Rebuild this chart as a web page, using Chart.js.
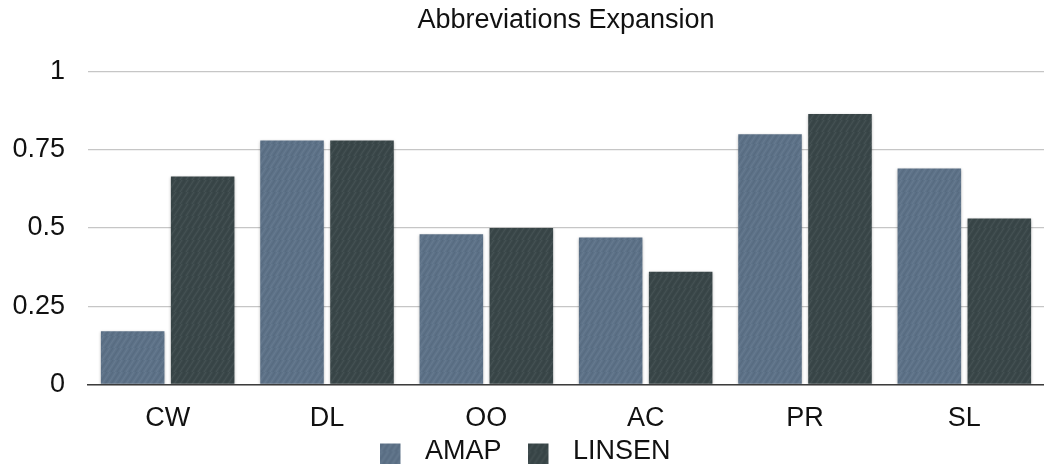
<!DOCTYPE html>
<html>
<head>
<meta charset="utf-8">
<script src="https://cdn.jsdelivr.net/npm/chart.js@4/dist/chart.umd.min.js"></script>
<style>
  html, body { margin: 0; padding: 0; background: #ffffff; overflow: hidden; }
  #wrap { width: 1044px; height: 465px; overflow: hidden; }
</style>
</head>
<body>
<div id="wrap"><canvas id="chart" width="1044" height="475"></canvas></div>
<script>
const categories = ['CW', 'DL', 'OO', 'AC', 'PR', 'SL'];
const amapValues = [0.17, 0.78, 0.48, 0.47, 0.80, 0.69];
const linsenValues = [0.665, 0.78, 0.50, 0.36, 0.865, 0.53];
const yTicks = [0, 0.25, 0.5, 0.75, 1];

const FONT = '"Liberation Sans", Arial, Helvetica, sans-serif';
const AMAP_COLOR = '#5d7288';
const LINSEN_COLOR = '#3a4749';

// Fine diagonal streak texture for the bar fills
function streakPattern(base) {
  const c = document.createElement('canvas');
  c.width = 12; c.height = 12;
  const g = c.getContext('2d');
  g.fillStyle = base;
  g.fillRect(0, 0, 12, 12);
  g.lineWidth = 1.2;
  g.strokeStyle = 'rgba(255,255,255,0.06)';
  for (let k = -12; k <= 24; k += 6) {
    g.beginPath(); g.moveTo(k, 12); g.lineTo(k + 8, 0); g.stroke();
  }
  g.strokeStyle = 'rgba(0,0,0,0.06)';
  for (let k = -9; k <= 27; k += 6) {
    g.beginPath(); g.moveTo(k, 12); g.lineTo(k + 8, 0); g.stroke();
  }
  return g.createPattern(c, 'repeat');
}

// Legend marker: a square on the left of a wider transparent box
function legendMarker(base) {
  const c = document.createElement('canvas');
  c.width = 31; c.height = 24;
  const g = c.getContext('2d');
  g.fillStyle = streakPattern(base);
  g.fillRect(0, 4, 20, 20);
  return c;
}

const barShadow = {
  id: 'barShadow',
  beforeDatasetsDraw(chart) {
    const ctx = chart.ctx;
    ctx.save();
    ctx.shadowColor = 'rgba(0,0,0,0.28)';
    ctx.shadowBlur = 3;
    ctx.shadowOffsetX = 0;
    ctx.shadowOffsetY = 1;
  },
  afterDatasetsDraw(chart) {
    chart.ctx.restore();
  }
};

new Chart(document.getElementById('chart'), {
  type: 'bar',
  data: {
    labels: categories,
    datasets: [
      {
        label: 'AMAP',
        data: amapValues,
        backgroundColor: streakPattern(AMAP_COLOR),
        pointStyle: legendMarker(AMAP_COLOR),
        borderWidth: 0,
        categoryPercentage: 0.8785,
        barPercentage: 0.908
      },
      {
        label: 'LINSEN',
        data: linsenValues,
        backgroundColor: streakPattern(LINSEN_COLOR),
        pointStyle: legendMarker(LINSEN_COLOR),
        borderWidth: 0,
        categoryPercentage: 0.8785,
        barPercentage: 0.908
      }
    ]
  },
  options: {
    responsive: false,
    animation: false,
    events: [],
    layout: { padding: { left: 0, right: -7, top: 0, bottom: 0 } },
    plugins: {
      tooltip: { enabled: false },
      title: {
        display: true,
        text: 'Abbreviations Expansion',
        fullSize: false,
        color: '#111111',
        font: { family: FONT, size: 27, weight: 'normal', lineHeight: 1 },
        padding: { top: 7.4, bottom: 37.3 }
      },
      legend: {
        display: true,
        position: 'bottom',
        labels: {
          usePointStyle: true,
          pointStyleWidth: 31,
          boxHeight: 27,
          padding: 27,
          color: '#111111',
          font: { family: FONT, size: 27, lineHeight: 1 }
        }
      }
    },
    scales: {
      x: {
        grid: { display: false, drawTicks: false },
        border: { display: true, color: '#3c3c3c', width: 1.5 },
        ticks: {
          color: '#111111',
          mirror: true,
          padding: -48.1,
          font: { family: FONT, size: 27, lineHeight: 1 }
        },
        afterFit(scale) { scale.height = 26.7; }
      },
      y: {
        min: 0,
        max: 1,
        afterBuildTicks(scale) { scale.ticks = yTicks.map(v => ({ value: v })); },
        grid: {
          drawTicks: false,
          color: '#c6c6c6',
          lineWidth: 1.3
        },
        border: { display: false },
        ticks: {
          color: '#111111',
          padding: 23,
          font: { family: FONT, size: 27, lineHeight: 1 },
          callback: (v) => String(v)
        },
        afterFit(scale) { scale.width = 88; }
      }
    }
  },
  plugins: [barShadow]
});
</script>
</body>
</html>
